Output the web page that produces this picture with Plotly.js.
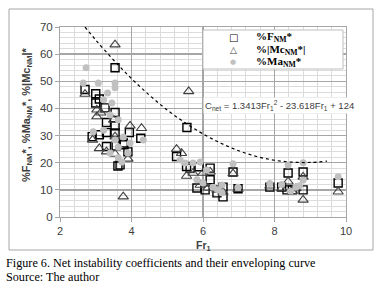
<!DOCTYPE html>
<html>
<head>
<meta charset="utf-8">
<script src="https://cdn.plot.ly/plotly-3.0.1.min.js"></script>
<style>html,body{margin:0;padding:0;background:#fff;}#chart{width:383px;height:294px;}</style>
</head>
<body>
<div id="chart"></div>
<script>
// %F_NM* (squares)
var fX = [2.7,3.0,3.1,3.0,3.26,3.54,3.3,3.54,3.3,3.1,2.9,3.54,3.94,4.26,3.3,3.57,3.79,3.77,3.9,3.68,3.62,3.54,
          5.55,5.26,5.54,5.64,5.89,5.83,6.06,6.2,6.2,6.39,6.56,6.56,
          6.84,6.98,7.87,8.2,8.38,8.35,8.5,8.8,8.8,9.78];
var fY = [47,45.4,43.5,42,40.2,38.5,34.8,33.6,31.1,30.3,29.6,31,31.1,29,26,26.2,26.6,27.3,24,19.2,18.8,55,
          33,22.3,18.6,18,18.5,10.7,10,13.7,18,8.9,7.4,11,
          16.6,10.4,11,11,16.2,10,10,16.6,10,12.5];
// %|Mc_NM*| (triangles)
var mcX = [3.54,2.7,3.03,3.03,3.14,3.5,3.96,4.28,2.91,3.54,3.1,3.3,3.54,3.9,3.77,
           5.6,5.26,5.4,5.54,5.72,6.0,6.2,5.92,6.14,6.39,6.56,
           6.84,6.98,7.87,8.2,8.38,8.5,8.6,8.8,8.8,9.78];
var mcY = [63.5,45.3,39.5,37,38.4,35.8,33.6,32.7,28.4,29.6,25.3,24.1,23.2,21.4,7.5,
           46.3,25,23.5,15.1,16.2,16.2,16.6,11.8,10.7,10,9.2,
           16,10.2,11.5,10.5,13,9.5,10.5,14.8,6.3,9.3];
// %Ma_NM* (grey circles)
var maX = [2.73,2.65,3.07,3.33,3.54,3.54,3.22,3.45,3.4,3.63,3.22,2.93,3.54,3.77,4.33,3.96,3.63,3.4,3.63,3.73,3.9,
           5.36,5.5,5.72,5.92,6.1,5.83,6.0,6.28,6.53,6.53,6.42,
           6.84,6.98,7.87,8.2,8.38,8.45,8.6,8.7,8.8,8.8,9.78];
var maY = [55,49.4,49.4,45.7,49.4,47.6,43.2,42,37.6,35.8,32,31.4,28.4,29.5,28.4,27.3,25.8,23.6,21.8,20.3,23.6,
           21,19.9,19.9,20.3,17.3,13.7,12.5,11,11.8,8.9,10,
           19.6,11,12.3,12,19.2,9.5,11,11.5,20,13.6,14.8];
// enveloping curve C_net
var curveX = [2.7,3,3.5,4,4.5,5,5.5,6,6.5,7,7.5,8,8.5,9,9.47];
var curveY = [70,65.2,57.8,51,44.9,39.4,34.7,30.6,27.2,24.4,22.3,20.9,20.2,20.1,20.6];
var xTicks = [2,4,6,8,10];
var yTicks = [0,10,20,30,40,50,60,70];

var px = function(p){ return (p-60)/286; };
var py = function(p){ return (217-p)/190; };

var traces = [
  {x:fX, y:fY, mode:'markers', type:'scatter', name:'%F<sub>NM</sub>*',
   marker:{symbol:'square-open', size:8, color:'#000', line:{width:1.4, color:'#000'}}},
  {x:mcX, y:mcY, mode:'markers', type:'scatter', name:'%|Mc<sub>NM</sub>*|',
   marker:{symbol:'triangle-up-open', size:9, color:'#404040', line:{width:1.1, color:'#404040'}}},
  {x:maX, y:maY, mode:'markers', type:'scatter', name:'%Ma<sub>NM</sub>*',
   marker:{symbol:'circle', size:7, color:'#c0c0c0', line:{width:0}}},
  {x:curveX, y:curveY, mode:'lines', type:'scatter', name:'C<sub>net</sub>', line:{shape:'spline', color:'#000', width:1.2, dash:'3px,3px'}}
];

var sans = 'Liberation Sans, Arial, sans-serif';
var serif = 'Liberation Serif, Times New Roman, serif';

var layout = {
  width:383, height:294,
  margin:{l:60, r:37, t:27, b:77},
  paper_bgcolor:'#fff', plot_bgcolor:'#fff',
  showlegend:false,
  xaxis:{range:[2,10], tickvals:xTicks, ticktext:xTicks.map(String), ticks:'outside', ticklen:4, tickcolor:'#a6a6a6',
         showline:true, linecolor:'#a6a6a6', linewidth:1, mirror:true,
         showgrid:true, gridcolor:'#a6a6a6', gridwidth:1.5, zeroline:false,
         minor:{dtick:0.4, showgrid:true, gridcolor:'#dcdcdc', gridwidth:1},
         tickfont:{family:sans, size:11, color:'#404040'}},
  yaxis:{range:[0,70], tickvals:yTicks, ticktext:yTicks.map(String), ticks:'outside', ticklen:4, tickcolor:'#a6a6a6',
         showline:true, linecolor:'#a6a6a6', linewidth:1, mirror:true,
         showgrid:true, gridcolor:'#a6a6a6', gridwidth:1.5, zeroline:false,
         minor:{dtick:2, showgrid:true, gridcolor:'#dcdcdc', gridwidth:1},
         tickfont:{family:sans, size:11.5, color:'#404040'}},
  shapes:[
    {type:'rect', xref:'paper', yref:'paper', x0:px(9), x1:px(373), y0:py(250), y1:py(9), line:{color:'#a6a6a6', width:1}, layer:'below'},
    {type:'rect', xref:'paper', yref:'paper', x0:px(203), x1:px(343), y0:py(69), y1:py(30), fillcolor:'#fff', line:{color:'#bfbfbf', width:1}, layer:'above'}
  ],
  annotations:[
    {xref:'paper', yref:'paper', x:px(27), y:py(115), textangle:-90, showarrow:false, xanchor:'center', yanchor:'middle',
     text:'<b>%F<sub>NM</sub>*, %Ma<sub>NM</sub>*, %|Mc<sub>NM</sub>|*</b>', font:{family:sans, size:11, color:'#404040'}},
    {xref:'paper', yref:'paper', x:0.5, y:py(246), showarrow:false, xanchor:'center', yanchor:'middle',
     text:'<b>Fr<sub>1</sub></b>', font:{family:sans, size:10.5, color:'#404040'}},
    {xref:'paper', yref:'paper', x:px(203), y:py(106), showarrow:false, xanchor:'left', yanchor:'middle', bgcolor:'#fff',
     text:'C<sub>net</sub> = 1.3413Fr<sub>1</sub><sup>2</sup> - 23.618Fr<sub>1</sub> + 124', font:{family:sans, size:9.5, color:'#404040'}},
    // legend symbols and labels
    {xref:'paper', yref:'paper', x:px(233), y:py(37), showarrow:false, xanchor:'center', yanchor:'middle', text:'□', font:{family:'DejaVu Sans', size:10, color:'#000'}},
    {xref:'paper', yref:'paper', x:px(233), y:py(50), showarrow:false, xanchor:'center', yanchor:'middle', text:'△', font:{family:'DejaVu Sans', size:9, color:'#404040'}},
    {xref:'paper', yref:'paper', x:px(233), y:py(62), showarrow:false, xanchor:'center', yanchor:'middle', text:'●', font:{family:'DejaVu Sans', size:7, color:'#c0c0c0'}},
    {xref:'paper', yref:'paper', x:px(254), y:py(37), showarrow:false, xanchor:'left', yanchor:'middle', text:'<b>%F<sub>NM</sub>*</b>', font:{family:serif, size:11, color:'#000'}},
    {xref:'paper', yref:'paper', x:px(254), y:py(50), showarrow:false, xanchor:'left', yanchor:'middle', text:'<b>%|Mc<sub>NM</sub>*|</b>', font:{family:serif, size:11, color:'#000'}},
    {xref:'paper', yref:'paper', x:px(254), y:py(62), showarrow:false, xanchor:'left', yanchor:'middle', text:'<b>%Ma<sub>NM</sub>*</b>', font:{family:serif, size:11, color:'#000'}},
    // caption
    {xref:'paper', yref:'paper', x:px(4), y:py(263), showarrow:false, xanchor:'left', yanchor:'middle',
     text:'Figure 6. Net instability coefficients and their enveloping curve', font:{family:serif, size:12.2, color:'#000'}},
    {xref:'paper', yref:'paper', x:px(4), y:py(277), showarrow:false, xanchor:'left', yanchor:'middle',
     text:'Source: The author', font:{family:serif, size:12.2, color:'#000'}}
  ]
};

Plotly.newPlot('chart', traces, layout, {displayModeBar:false, staticPlot:true});
</script>
</body>
</html>
